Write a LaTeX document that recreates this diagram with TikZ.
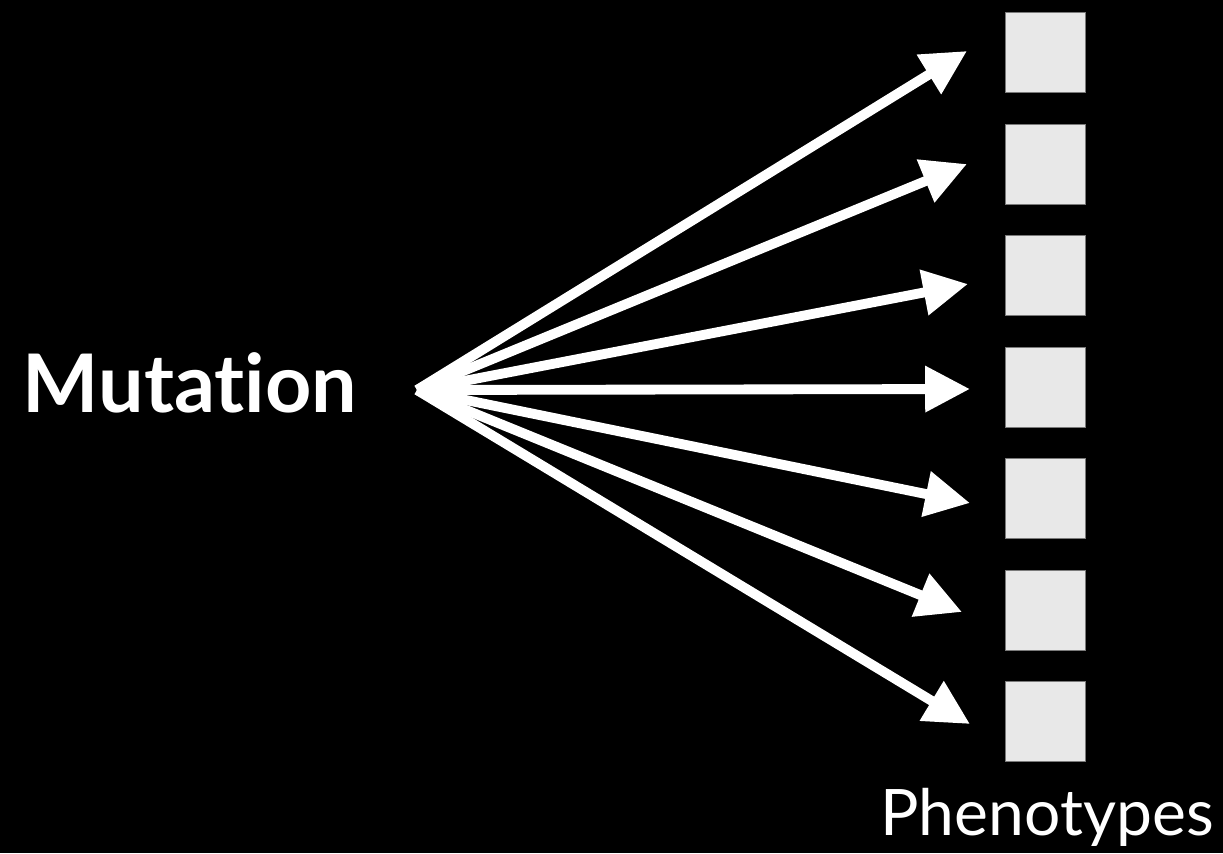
\documentclass[tikz,border=0pt]{standalone}
\usepackage{fontspec}
\setmainfont{Lato}[Ligatures=NoCommon]
\usetikzlibrary{arrows.meta}
\definecolor{boxgray}{HTML}{E8E8E8}
\definecolor{edgegray}{HTML}{7A7A7A}
\begin{document}
\begin{tikzpicture}[x=0.02cm, y=-0.02cm,
          pheno/.style={draw=edgegray, line width=0.5pt, fill=boxgray, minimum size=1.6cm, inner sep=0pt},
          lbl/.style={text=white, inner sep=0pt},
          arr/.style={draw=white, line width=5.6pt, -{Triangle[length=25.5pt, width=25pt]}}]
        \fill[black] (0,0) rectangle (1223,853);
        \node[lbl, anchor=base, font=\fontsize{46}{55}\selectfont\bfseries] (mut) at (190,412) {Mutation};
        \coordinate (src) at (417,390);
        % column of phenotype boxes
        \foreach \i in {1,...,7}
          \node[pheno] (p\i) at (1045,{52.5+111.5*(\i-1)}) {};
        \node[lbl, anchor=base, font=\fontsize{36.5}{44}\selectfont] (phen) at (1047,835) {Phenotypes};
        % arrow tips just left of the boxes
        \foreach \i/\tx/\ty in {1/967/51, 2/967/164, 3/968/284, 4/970/389, 5/970/503, 6/962/612, 7/970/724}
          \coordinate (t\i) at (\tx,\ty);
        \foreach \i in {1,...,7}
          \draw[arr] (src) -- (t\i);
      \end{tikzpicture}
\end{document}
